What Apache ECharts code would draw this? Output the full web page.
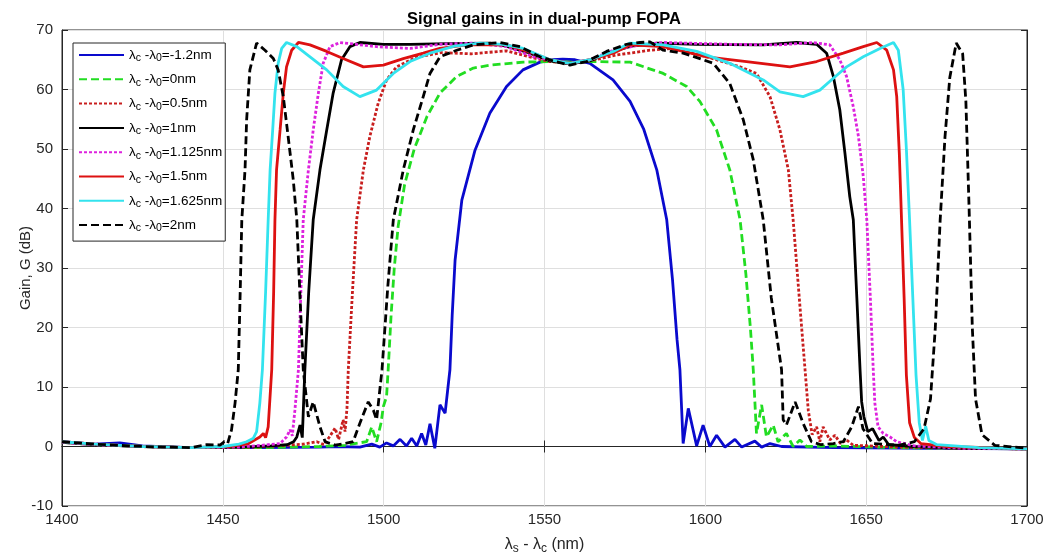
<!DOCTYPE html>
<html>
<head>
<meta charset="utf-8">
<script src="https://cdn.jsdelivr.net/npm/echarts@6/dist/echarts.min.js"></script>
<style>
html, body { margin: 0; padding: 0; background: #fff; }
#chart { width: 1049px; height: 560px; }
</style>
</head>
<body>
<div id="chart"></div>
<script>
// legend values (lambda_c - lambda_0, nm)
var shifts = ['-1.2', '0', '0.5', '1', '1.125', '1.5', '1.625', '2'];

// gain curves: [wavelength nm, gain dB]
var gainM12 = [[1400,0.8],[1410,0.4],[1418,0.6],[1425,0.1],[1440,-0.2],[1460,-0.2],[1480,-0.1],[1485.4,0],[1492.6,-0.1],[1496.3,0.4],[1498.8,-0.1],[1500.9,0.6],[1503,0.1],[1505.1,1.2],[1507.1,0.1],[1508.7,1.4],[1510.3,0.1],[1511.8,2.2],[1513.1,0.25],[1514.4,3.8],[1515.9,-0.3],[1517.5,7],[1519.1,5.6],[1520.6,12.9],[1521.3,22],[1522.2,31.3],[1524.3,41.4],[1528.4,49.8],[1533,56],[1538.2,60.5],[1543.3,63.3],[1548.6,64.6],[1552.6,65],[1555.7,65.1],[1559.5,65],[1564.1,64.4],[1571.3,61.6],[1576.6,58],[1580.8,53.4],[1584.9,46.5],[1588,38.1],[1589.8,28],[1591.2,18],[1592.1,12.9],[1593.1,0.5],[1594.7,6.4],[1597.3,0.1],[1599.3,3.6],[1601.4,0],[1603.5,1.9],[1606.1,-0.1],[1609.2,1.2],[1611.3,-0.1],[1615.4,0.9],[1617.5,-0.1],[1620.1,0.5],[1623.7,0],[1640,-0.2],[1670,-0.3],[1700,-0.4]];
var gain0 = [[1400,0.7],[1410,0.3],[1425,0],[1440,-0.2],[1460,-0.2],[1480,0],[1488,0.2],[1491,0.5],[1494.7,0.8],[1496.3,3.3],[1497.8,0.8],[1499.2,4],[1499.9,6.7],[1500.9,8.4],[1501.4,12.9],[1502.3,22],[1503.3,30],[1504.5,37],[1506.5,44],[1509.5,50],[1513.5,55.5],[1517.5,59.4],[1522.7,62.2],[1527.9,63.6],[1533,64.1],[1543.4,64.6],[1551.7,64.7],[1558,64.6],[1564.1,64.7],[1576.6,64.6],[1586.9,62.7],[1594.2,60.5],[1598.3,58],[1603.5,53.2],[1607.6,46.5],[1610.8,38.1],[1612.6,29],[1614,20],[1614.9,12.9],[1615.9,2.2],[1617.5,7],[1619,1.6],[1621.1,3.6],[1622.6,0.8],[1625.2,2.2],[1627.3,0],[1629.4,1.1],[1631.5,0],[1640,0.1],[1660,-0.2],[1680,-0.3],[1700,-0.4]];
var gain05 = [[1400,0.8],[1410,0.4],[1425,0],[1440,-0.2],[1460,-0.1],[1470,0.2],[1475,0.4],[1479.2,0.8],[1481.5,0.3],[1483,1.5],[1484.9,3.1],[1486,1.2],[1487.4,4.5],[1488,2.5],[1488.6,6.5],[1489,12.9],[1490.3,26],[1491.6,38.1],[1493.7,46.5],[1495.7,52.1],[1498.3,57.7],[1500.9,61.6],[1504,63.8],[1510,65.4],[1518,66.2],[1527.3,66],[1538.2,66.5],[1547.5,65.2],[1551.7,64.7],[1557.9,64.4],[1564.1,64.8],[1572.4,65.8],[1582.8,66.6],[1590,66.9],[1600.4,65.5],[1610.8,63.8],[1615.9,62.7],[1620.1,58.8],[1623.2,53.2],[1625.8,46.5],[1627.3,38.1],[1629.2,25],[1631,12.9],[1632,6.1],[1633.2,2],[1634.6,3.3],[1635.6,0.8],[1636.6,3.3],[1638.7,1.1],[1640.3,1.9],[1642,0.5],[1643.9,1.1],[1646,0.2],[1660,-0.1],[1680,-0.3],[1700,-0.4]];
var gain1 = [[1400,0.7],[1410,0.3],[1425,0],[1440,-0.2],[1455,-0.1],[1465,0.1],[1470,0.3],[1472,0.8],[1473,1.6],[1474,3.6],[1474.7,1.5],[1475.5,12.9],[1476.7,26],[1478.1,38.1],[1480.2,46.5],[1482.3,53.2],[1484.3,59.4],[1486.9,65],[1489.5,67.2],[1492.6,67.9],[1499.9,67.6],[1508.2,67.6],[1520,67.7],[1533,67.8],[1538,67.3],[1545,66.2],[1551.7,64.8],[1557.9,64.3],[1564.1,64.8],[1570,66.2],[1577,67.3],[1585,67.8],[1597.3,67.6],[1618,67.5],[1628.4,67.9],[1634.6,67.6],[1637.7,66.1],[1639.8,62.2],[1641.8,56.6],[1643.4,49.3],[1644.9,42],[1646,38.1],[1647.1,25],[1648.1,12.9],[1648.6,7.5],[1649.3,5],[1650.5,2.5],[1652,3],[1654,1],[1655.3,1.6],[1657,0.3],[1665,0],[1680,-0.3],[1700,-0.4]];
var gain1125 = [[1400,0.7],[1410,0.3],[1425,0],[1440,-0.2],[1455,-0.1],[1462,0.2],[1467.8,0.5],[1469.8,1.6],[1470.9,2.8],[1471.6,1.8],[1472.4,6.1],[1473.5,12.9],[1474.2,25],[1475,38.1],[1476.6,46.5],[1478.1,53.2],[1479.7,59.4],[1481.2,64.4],[1483.3,67.2],[1486.4,67.9],[1497.8,67.2],[1508.2,66.9],[1517.5,67.6],[1527.9,67.8],[1538.2,67.2],[1546.5,65.5],[1551.7,65],[1557.9,64.4],[1564.1,65],[1571.4,66.6],[1579.7,67.5],[1586.9,67.9],[1607.6,67.6],[1623.2,67.5],[1633.5,67.9],[1638.7,67.5],[1641.8,65],[1643.9,62.2],[1646,57.1],[1647.6,52.1],[1649.1,45.4],[1650.2,38.1],[1651.3,25],[1652.2,12.9],[1652.7,7.3],[1653.7,3.3],[1655.3,2.2],[1657.4,1.6],[1659.5,0.8],[1665,0.1],[1680,-0.3],[1700,-0.4]];
var gain15 = [[1400,0.8],[1410,0.4],[1425,0],[1440,-0.2],[1452,0],[1458,0.5],[1461.5,1.6],[1462.6,2.2],[1463.3,1.5],[1464.1,3.3],[1465.2,12.9],[1465.8,26],[1466.2,38.1],[1466.7,46.5],[1467.8,53.2],[1468.8,59.4],[1469.8,63.8],[1471.4,66.6],[1473.5,67.9],[1477.1,67.5],[1482.3,66.4],[1487.4,65.2],[1493.7,63.8],[1499.9,64.1],[1506.1,65.2],[1512.3,66.1],[1517.5,66.9],[1525.8,67.5],[1538.2,67.5],[1546.5,66.1],[1551.7,65],[1557.9,64.4],[1564.1,65],[1571.4,66.1],[1576.6,67.5],[1586.9,67.2],[1600.4,65.5],[1612.8,64.7],[1626.3,63.8],[1634.6,64.7],[1642.9,66.1],[1649.1,67.2],[1653.3,67.9],[1656.4,66.6],[1658.5,63.3],[1659.5,58.8],[1660.3,49.3],[1661,38],[1661.8,25],[1662.5,12],[1663.5,4],[1665,1.5],[1667,0.5],[1675,0],[1700,-0.4]];
var gain1625 = [[1400,0.8],[1410,0.4],[1425,0],[1440,-0.2],[1450,0],[1455,0.4],[1457.4,0.8],[1459.5,1.4],[1460.5,2.5],[1461.5,7.3],[1462.3,12.9],[1463.3,26],[1464.1,38.1],[1464.7,46.5],[1465.5,53.2],[1466.2,59.4],[1467.2,64.4],[1468.3,66.9],[1469.8,67.9],[1473,67.2],[1477.1,65.5],[1482.3,63.3],[1487.4,60.5],[1492.6,58.8],[1497.8,59.9],[1503,62.7],[1508.2,64.7],[1514.4,66.1],[1522,67.3],[1530,67.8],[1537,67.6],[1543.4,66.9],[1551.7,65],[1557.9,64.4],[1564.1,65],[1571.4,66.4],[1576.6,67.8],[1586.9,67.5],[1597.3,66.4],[1607.6,64.4],[1618,61.6],[1623.2,59.6],[1630.4,58.8],[1635.6,59.9],[1639.8,61.9],[1643.9,63.8],[1649.1,65.5],[1654.3,66.9],[1658.5,67.9],[1660,66.6],[1661.5,60],[1662.5,50],[1663.5,38],[1664.5,25],[1665.5,12],[1666.5,4],[1667.5,1],[1668.5,3.4],[1669.5,1],[1672,0.3],[1685,-0.2],[1700,-0.4]];
var gain2 = [[1400,0.8],[1410,0.4],[1425,0],[1440,-0.2],[1445,0.3],[1449.1,0.25],[1450.5,0.8],[1451.5,0.5],[1452.7,2.8],[1453.8,7.3],[1454.8,12.9],[1455.4,26],[1455.9,38.1],[1456.9,46.5],[1457.4,54.9],[1458.4,63.3],[1460.5,67.8],[1463.1,66.6],[1465.7,65.2],[1467.2,63.3],[1468.8,58.8],[1470.3,52.1],[1471.9,44.8],[1473,38.1],[1474,25],[1475,12.9],[1476.6,5],[1478.1,7.5],[1480.2,3.3],[1481.8,0.8],[1484.9,0.25],[1488,0.5],[1490.5,0.8],[1492.6,3.9],[1495.2,7.5],[1496.8,6.1],[1497.8,4.5],[1499.5,13],[1501.3,27],[1503,38.1],[1506.1,46.5],[1509.2,53.2],[1512.3,58.8],[1514.4,62.7],[1517.5,65.5],[1522.7,66.6],[1527.9,67.5],[1536.1,67.9],[1542.4,67.2],[1548.6,65.5],[1552.7,64.8],[1557.9,64.1],[1563.1,64.7],[1569.3,66.4],[1575.5,67.6],[1579.7,67.9],[1582.8,68],[1586.9,66.6],[1593.1,66.1],[1598.3,65.2],[1602.5,64.4],[1607.6,61],[1611.8,54.9],[1614.9,48.2],[1618,38.1],[1620.5,25],[1623.7,12.9],[1624.2,4.5],[1625.2,3.6],[1627.9,7.5],[1630.4,3.9],[1633,0.8],[1636,0.3],[1639.8,0.5],[1642.9,0.8],[1645.5,3.3],[1647.6,6.7],[1649,3],[1652,0.5],[1660,0.2],[1665,0.8],[1668,3],[1670,8],[1671.5,20],[1673,38],[1674.5,52],[1676,62],[1678,67.8],[1680,66],[1681,58],[1682,40],[1683,20],[1684,8],[1686,2],[1690,0.2],[1700,-0.3]];

var xTicks = { min: 1400, max: 1700, interval: 50 };
var yTicks = { min: -10, max: 70, interval: 10 };

var curves = [gainM12, gain0, gain05, gain1, gain1125, gain15, gain1625, gain2];
var colors = ['#0a0acd', '#22dd22', '#c81e1e', '#000000', '#dd22dd', '#dd1111', '#33e3ee', '#000000'];
var dashes = ['solid', [8, 4], [3, 2], 'solid', [3, 2], 'solid', 'solid', [8, 4]];

var FONT = 'Liberation Sans, Arial, sans-serif';

function lam(name) {
    // 'λc-λ0=...' with subscripts
    var v = name.split('=')[1];
    return '{t|λ}{s|c}{t| -λ}{s|0}{t|=' + v + '}';
}

var myChart = echarts.init(document.getElementById('chart'));
var series = [];
for (var i = 0; i < curves.length; i++) {
    series.push({
        name: 'λc-λ0=' + shifts[i] + 'nm',
        type: 'line',
        data: curves[i],
        showSymbol: false,
        symbol: 'none',
        lineStyle: { color: colors[i], width: 2.8, type: dashes[i] },
        itemStyle: { color: colors[i] },
        z: 2 + i
    });
}

var labelFont = { color: '#262626', fontSize: 15, fontFamily: FONT };

myChart.setOption({
    animation: false,
    backgroundColor: '#fff',
    title: {
        text: 'Signal gains in in dual-pump FOPA',
        left: 539, top: 6, textAlign: 'center',
        textStyle: { fontSize: 16.5, fontWeight: 'bold', color: '#000', fontFamily: FONT }
    },
    grid: { left: 62, right: 22, top: 30, bottom: 54, show: true, borderColor: '#262626', borderWidth: 1 },
    legend: {
        orient: 'vertical', left: 73, top: 43,
        padding: [5, 3, 7, 5],
        itemWidth: 45, itemHeight: 12, itemGap: 8.3,
        itemStyle: { opacity: 0 },
        backgroundColor: '#fff', borderColor: '#262626', borderWidth: 1, borderRadius: 0,
        formatter: lam,
        textStyle: {
            rich: {
                t: { fontSize: 13.5, color: '#000', lineHeight: 18, fontFamily: FONT },
                s: { fontSize: 10.5, color: '#000', lineHeight: 9, verticalAlign: 'bottom', fontFamily: FONT }
            }
        }
    },
    xAxis: [{
        type: 'value', min: xTicks.min, max: xTicks.max, interval: xTicks.interval,
        name: '{t|λ}{s|s}{t| - λ}{s|c}{t| (nm)}', nameLocation: 'middle', nameGap: 29,
        nameTextStyle: { rich: {
            t: { fontSize: 16, color: '#262626', lineHeight: 20, fontFamily: FONT },
            s: { fontSize: 12, color: '#262626', lineHeight: 10, verticalAlign: 'bottom', fontFamily: FONT } } },
        axisLine: { lineStyle: { color: '#262626' } },
        axisTick: { inside: true, length: 6, lineStyle: { color: '#262626' } },
        axisLabel: Object.assign({ margin: 6, formatter: function (v) { return String(v); } }, labelFont),
        splitLine: { show: true, lineStyle: { color: '#dfdfdf', width: 1 } }
    }, {
        type: 'value', position: 'top', min: xTicks.min, max: xTicks.max, interval: xTicks.interval,
        axisLine: { lineStyle: { color: '#262626' } },
        axisTick: { inside: true, length: 6, lineStyle: { color: '#262626' } },
        axisLabel: { show: false }, splitLine: { show: false }
    }],
    yAxis: [{
        type: 'value', min: yTicks.min, max: yTicks.max, interval: yTicks.interval,
        name: 'Gain, G (dB)', nameLocation: 'middle', nameGap: 29, nameMoveOverlap: false,
        nameTextStyle: { color: '#262626', fontSize: 15, fontFamily: FONT },
        axisLine: { lineStyle: { color: '#262626' } },
        axisTick: { inside: true, length: 6, lineStyle: { color: '#262626' } },
        axisLabel: Object.assign({ margin: 9 }, labelFont),
        splitLine: { show: true, lineStyle: { color: '#dfdfdf', width: 1 } }
    }, {
        type: 'value', position: 'right', min: yTicks.min, max: yTicks.max, interval: yTicks.interval,
        axisLine: { lineStyle: { color: '#262626' } },
        axisTick: { inside: true, length: 6, lineStyle: { color: '#262626' } },
        axisLabel: { show: false }, splitLine: { show: false }
    }],
    series: series
});
</script>
</body>
</html>
